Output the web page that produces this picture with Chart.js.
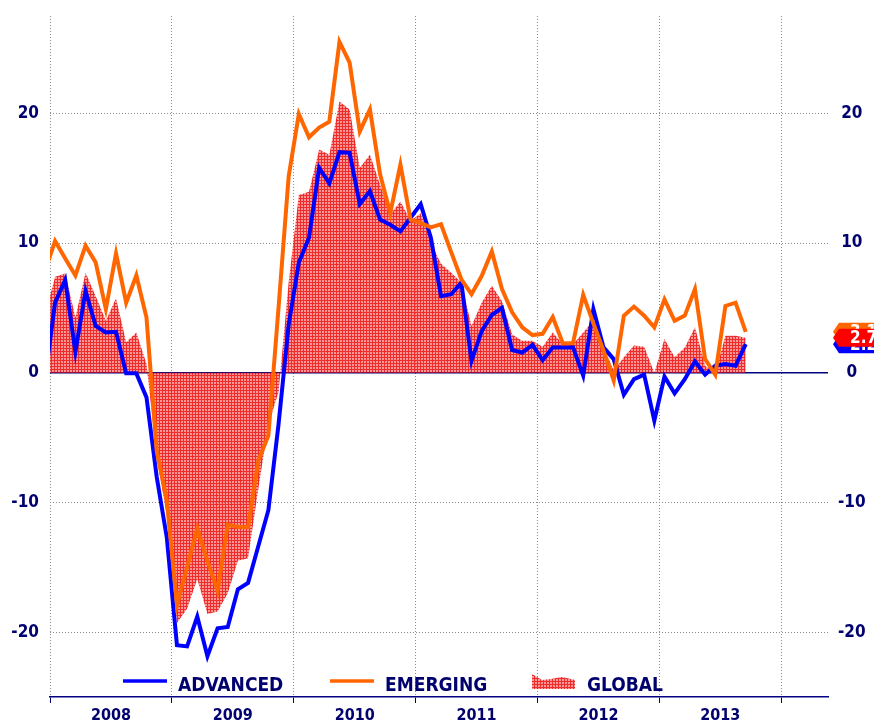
<!DOCTYPE html>
<html>
<head>
<meta charset="utf-8">
<script src="https://cdn.jsdelivr.net/npm/chart.js@4.4.1/dist/chart.umd.min.js"></script>
<style>
  html, body { margin: 0; padding: 0; background: #fff; }
  canvas { display: block; }
</style>
</head>
<body>
<canvas id="chart" width="874" height="726"></canvas>
<script>
// monthly readings, Dec 2007 .. Sep 2013 (% y/y)
const months = [
    "2007-12",
    "2008-01", "2008-02", "2008-03", "2008-04", "2008-05", "2008-06", "2008-07", "2008-08", "2008-09", "2008-10", "2008-11", "2008-12",
    "2009-01", "2009-02", "2009-03", "2009-04", "2009-05", "2009-06", "2009-07", "2009-08", "2009-09", "2009-10", "2009-11", "2009-12",
    "2010-01", "2010-02", "2010-03", "2010-04", "2010-05", "2010-06", "2010-07", "2010-08", "2010-09", "2010-10", "2010-11", "2010-12",
    "2011-01", "2011-02", "2011-03", "2011-04", "2011-05", "2011-06", "2011-07", "2011-08", "2011-09", "2011-10", "2011-11", "2011-12",
    "2012-01", "2012-02", "2012-03", "2012-04", "2012-05", "2012-06", "2012-07", "2012-08", "2012-09", "2012-10", "2012-11", "2012-12",
    "2013-01", "2013-02", "2013-03", "2013-04", "2013-05", "2013-06", "2013-07", "2013-08", "2013-09"
];

const advanced = [
    -0.5,
    5.4, 7.15, 1.6, 6.3, 3.6, 3.1, 3.15, -0.05, -0.05, -1.9, -8.0, -12.7,
    -21.0, -21.1, -18.8, -21.85, -19.7, -19.6, -16.7, -16.2, -13.4, -10.6, -4.0, 3.7,
    8.5, 10.4, 15.8, 14.6, 17.0, 16.95, 13.0, 14.0, 11.8, 11.4, 10.9, 11.95,
    13.0, 10.4, 5.9, 6.05, 6.95, 0.9, 3.2, 4.45, 5.0, 1.75, 1.56, 2.15,
    0.97, 1.95, 1.95, 1.95, -0.23, 4.9, 1.95, 1.05, -1.7, -0.5, -0.15, -3.7,
    -0.3, -1.6, -0.5, 0.87, -0.15, 0.54, 0.67, 0.54, 2.2
];

const emerging = [
    7.85,
    10.15, 8.8, 7.5, 9.8, 8.5, 4.9, 9.2, 5.4, 7.5, 4.25, -6.0, -9.85,
    -17.9, -15.0, -12.0, -14.5, -16.8, -11.7, -11.9, -11.9, -6.8, -4.85, 5.0, 15.15,
    19.95, 18.15, 18.9, 19.35, 25.5, 23.9, 18.6, 20.3, 15.3, 12.3, 16.05, 11.8,
    11.55, 11.2, 11.45, 9.3, 7.2, 6.05, 7.45, 9.35, 6.45, 4.65, 3.5, 2.9,
    3.0, 4.3, 2.25, 2.3, 6.0, 3.8, 1.7, -0.6, 4.4, 5.1, 4.4, 3.5,
    5.65, 4.0, 4.4, 6.45, 1.05, -0.15, 5.15, 5.4, 3.15
];

const global = [
    4.4,
    7.4, 7.65, 4.25, 7.7, 5.9, 4.0, 5.75, 2.35, 3.1, 0.67, -6.5, -11.0,
    -19.3, -18.2, -15.9, -18.6, -18.4, -17.0, -14.5, -14.3, -9.0, -4.0, -1.5, 7.0,
    13.7, 13.95, 17.2, 16.8, 20.9, 20.3, 15.8, 16.8, 14.5, 12.2, 13.2, 11.7,
    12.3, 10.0, 8.4, 7.7, 6.95, 3.6, 5.4, 6.7, 5.5, 2.95, 2.46, 2.46,
    2.0, 3.1, 2.2, 2.2, 3.1, 4.0, 2.0, 0.15, 1.2, 2.1, 2.0, 0.0,
    2.6, 1.2, 1.95, 3.5, 0.54, 0.0, 2.85, 2.85, 2.7
];

const years = ["2008", "2009", "2010", "2011", "2012", "2013"];
const yTicks = [-20, -10, 0, 10, 20];

const NAVY = "#00006e";
const FONT = "'DejaVu Sans Condensed', 'DejaVu Sans', sans-serif";

// months since Jan 2008, centred in the month
function monthPos(m) {
    const [yy, mm] = m.split("-").map(Number);
    return (yy - 2008) * 12 + (mm - 1) + 0.5;
}

function toPoints(values) {
    return months.map((m, i) => ({ x: monthPos(m), y: values[i] }));
}

const canvas = document.getElementById("chart");
const ctx = canvas.getContext("2d");

function makeHatch() {
    const tile = document.createElement("canvas");
    tile.width = 3;
    tile.height = 3;
    const t = tile.getContext("2d");
    t.fillStyle = "rgba(255,80,80,0.6)";
    t.fillRect(0, 0, 3, 3);
    t.fillStyle = "rgba(230,0,0,0.7)";
    t.fillRect(0, 0, 3, 1);
    t.fillRect(0, 1, 1, 2);
    return ctx.createPattern(tile, "repeat");
}
const hatch = makeHatch();

const xTickValues = [];
for (let v = 0; v <= years.length * 12; v += 6) xTickValues.push(v);

// legend drawn inside the plot, just above the axis
const legendPlugin = {
    id: "innerLegend",
    afterDraw(chart) {
        const c = chart.ctx;
        const ds = chart.data.datasets;
        const items = [
            { x: 123, ds: ds[0] },
            { x: 330, ds: ds[1] },
            { x: 532, ds: ds[2] }
        ];
        const ly = 681;
        c.save();
        items.forEach(it => {
            if (it.ds.fill) {
                c.beginPath();
                c.moveTo(it.x, 689);
                c.lineTo(it.x, 674);
                c.lineTo(it.x + 10, 680);
                c.lineTo(it.x + 19, 679);
                c.lineTo(it.x + 30, 677);
                c.lineTo(it.x + 43, 680);
                c.lineTo(it.x + 43, 689);
                c.closePath();
                c.fillStyle = it.ds.backgroundColor;
                c.fill();
            } else {
                c.beginPath();
                c.moveTo(it.x, ly);
                c.lineTo(it.x + 44, ly);
                c.lineWidth = 3.5;
                c.strokeStyle = it.ds.borderColor;
                c.stroke();
            }
            c.font = "bold 19px " + FONT;
            c.fillStyle = NAVY;
            c.textAlign = "left";
            c.textBaseline = "alphabetic";
            c.fillText(it.ds.label, it.x + 55, 691);
        });
        c.restore();
    }
};

// value tags on the right edge for the last reading of each series
const tagPlugin = {
    id: "lastTags",
    afterDraw(chart) {
        const c = chart.ctx;
        const ys = chart.scales.y;
        const tipX = chart.chartArea.right + 5;
        const ds = chart.data.datasets;
        c.save();
        [1, 0, 2].forEach(i => {
            const d = ds[i];
            const v = d.data[d.data.length - 1].y;
            const py = ys.getPixelForValue(v);
            c.beginPath();
            c.moveTo(tipX, py);
            c.lineTo(tipX + 6, py - 9);
            c.lineTo(chart.width + 5, py - 9);
            c.lineTo(chart.width + 5, py + 9);
            c.lineTo(tipX + 6, py + 9);
            c.closePath();
            c.fillStyle = d.fill ? "#ff0000" : d.borderColor;
            c.fill();
            c.font = "bold 17px " + FONT;
            c.fillStyle = "#ffffff";
            c.textAlign = "left";
            c.textBaseline = "middle";
            c.fillText(v.toFixed(1), tipX + 17, py + 1);
        });
        c.restore();
    }
};

const yTickFont = { family: FONT, size: 17, weight: "bold" };

function fitY(width) {
    return s => {
        s.width = width;
        s.paddingTop = 0;
        s.paddingBottom = 0;
    };
}

new Chart(ctx, {
    type: "line",
    data: {
        datasets: [
            {
                label: "ADVANCED",
                data: toPoints(advanced),
                borderColor: "#0000ff",
                borderWidth: 4,
                pointRadius: 0,
                tension: 0,
                fill: false,
                clip: 0,
                order: 2
            },
            {
                label: "EMERGING",
                data: toPoints(emerging),
                borderColor: "#ff6600",
                borderWidth: 4,
                pointRadius: 0,
                tension: 0,
                fill: false,
                clip: 0,
                order: 1
            },
            {
                label: "GLOBAL",
                data: toPoints(global),
                borderWidth: 0,
                borderColor: "rgba(0,0,0,0)",
                backgroundColor: hatch,
                pointRadius: 0,
                tension: 0,
                fill: "origin",
                clip: 0,
                order: 3
            }
        ]
    },
    options: {
        responsive: false,
        animation: false,
        devicePixelRatio: 1,
        layout: { padding: { top: 16, left: 0, right: 0, bottom: 0 } },
        plugins: {
            legend: { display: false },
            tooltip: { enabled: false },
            title: { display: false }
        },
        scales: {
            x: {
                type: "linear",
                position: "bottom",
                min: 0,
                max: 76.6,
                afterBuildTicks: s => { s.ticks = xTickValues.map(v => ({ value: v })); },
                afterFit: s => {
                    s.height = 29;
                    s.paddingLeft = 0;
                    s.paddingRight = 0;
                },
                ticks: {
                    autoSkip: false,
                    maxRotation: 0,
                    padding: 3,
                    color: NAVY,
                    font: { family: FONT, size: 16, weight: "bold" },
                    callback: v => (v % 12 === 6 ? years[(v - 6) / 12] : "")
                },
                grid: {
                    color: c => (c.tick && c.tick.value % 12 === 0 ? "#8a8a8a" : "rgba(0,0,0,0)"),
                    tickColor: c => (c.tick && c.tick.value % 12 === 0 ? NAVY : "rgba(0,0,0,0)"),
                    lineWidth: 1,
                    tickLength: 6,
                    drawTicks: true
                },
                border: { display: true, color: "#000080", width: 1.5, dash: [1, 2] }
            },
            y: {
                position: "left",
                min: -25,
                max: 27.5,
                afterBuildTicks: s => { s.ticks = yTicks.map(v => ({ value: v })); },
                afterFit: fitY(50),
                ticks: { padding: 11, color: NAVY, font: yTickFont },
                grid: {
                    color: c => (c.tick && c.tick.value === 0 ? "#000080" : "#8a8a8a"),
                    lineWidth: c => (c.tick && c.tick.value === 0 ? 1.5 : 1),
                    drawTicks: false
                },
                border: {
                    display: false,
                    dash: c => (c.tick && c.tick.value === 0 ? [] : [1, 2])
                }
            },
            y2: {
                position: "right",
                min: -25,
                max: 27.5,
                afterBuildTicks: s => { s.ticks = yTicks.map(v => ({ value: v })); },
                afterFit: fitY(46),
                ticks: { padding: 10, crossAlign: "center", color: NAVY, font: yTickFont },
                grid: { display: false, drawTicks: false },
                border: { display: false }
            }
        }
    },
    plugins: [legendPlugin, tagPlugin]
});
</script>
</body>
</html>
